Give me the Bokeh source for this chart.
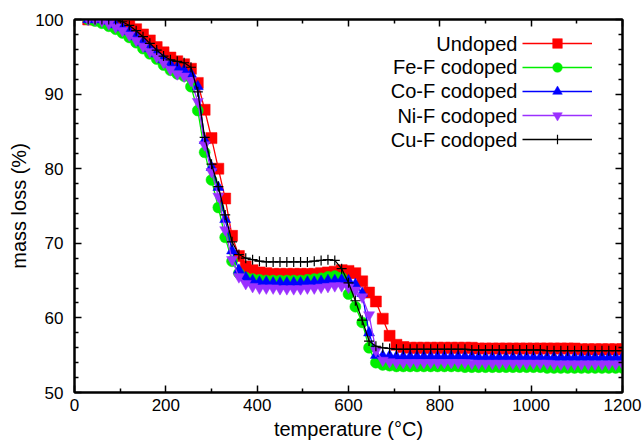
from bokeh.plotting import figure
from bokeh.models import (LinearAxis, FixedTicker, Range1d, Legend, LegendItem,
                          Label, CustomJSTickFormatter)
from bokeh.embed import file_html
from bokeh.resources import INLINE

# ---------------- data ----------------
temperature = list(range(30, 1201, 15))  # sampling grid, degC

undoped = [100.0, 100.0, 100.0, 100.0, 99.9, 99.6, 99.2, 98.7, 98.0, 97.2,
           96.3, 95.6, 94.9, 94.4, 94.0, 93.4, 91.5, 87.9, 84.1, 80.0,
           76.0, 71.0, 68.3, 66.9, 66.4, 66.1, 66.0, 65.9, 65.9, 65.9,
           65.9, 65.9, 65.9, 65.9, 66.0, 66.1, 66.2, 66.4, 66.3, 66.0,
           64.9, 63.4, 62.2, 59.9, 57.6, 56.4, 56.1, 56.0, 56.0, 56.0,
           56.0, 56.0, 56.0, 56.0, 56.0, 56.0, 56.0, 55.9, 55.9, 55.9,
           55.9, 55.9, 55.9, 55.9, 55.9, 55.9, 55.9, 55.9, 55.9, 55.9,
           55.9, 55.9, 55.8, 55.8, 55.8, 55.8, 55.8, 55.8, 55.8]

fe_f = [100.0, 99.8, 99.5, 99.1, 98.7, 98.2, 97.6, 96.9, 96.1, 95.4,
        94.7, 93.9, 93.2, 92.7, 92.4, 91.0, 87.8, 82.2, 78.5, 74.8,
        70.8, 67.6, 66.0, 65.4, 65.2, 65.1, 65.0, 65.0, 65.0, 65.0,
        65.0, 65.0, 65.1, 65.2, 65.3, 65.5, 65.6, 65.4, 63.2, 61.5,
        59.4, 56.0, 54.0, 53.7, 53.6, 53.5, 53.5, 53.5, 53.5, 53.5,
        53.5, 53.5, 53.5, 53.5, 53.5, 53.4, 53.4, 53.4, 53.4, 53.4,
        53.4, 53.4, 53.4, 53.4, 53.4, 53.4, 53.4, 53.3, 53.3, 53.3,
        53.3, 53.3, 53.3, 53.3, 53.3, 53.3, 53.3, 53.3, 53.3]

co_f = [100.0, 100.0, 100.0, 99.8, 99.3, 98.9, 98.4, 97.7, 96.9, 96.1,
        95.4, 94.6, 94.0, 93.6, 93.2, 92.7, 91.0, 83.8, 80.2, 77.5,
        73.2, 69.0, 66.4, 65.4, 65.0, 64.8, 64.8, 64.7, 64.7, 64.7,
        64.7, 64.7, 64.8, 64.8, 64.9, 65.0, 65.0, 65.1, 65.0, 64.5,
        63.3, 58.0, 55.0, 54.9, 54.9, 54.8, 54.8, 54.8, 54.8, 54.8,
        54.8, 54.8, 54.8, 54.8, 54.8, 54.8, 54.8, 54.7, 54.7, 54.7,
        54.7, 54.7, 54.7, 54.7, 54.7, 54.7, 54.7, 54.7, 54.7, 54.7,
        54.7, 54.7, 54.7, 54.7, 54.7, 54.7, 54.7, 54.7, 54.7]

ni_f = [100.0, 100.0, 99.8, 99.4, 99.0, 98.5, 97.9, 97.2, 96.4, 95.7,
        95.0, 94.2, 93.3, 92.7, 92.4, 91.8, 89.0, 83.2, 79.6, 76.3,
        71.8, 67.8, 65.5, 64.6, 64.2, 64.0, 64.0, 64.0, 63.9, 63.9,
        63.9, 63.9, 64.0, 64.0, 64.1, 64.2, 64.3, 64.3, 64.1, 63.7,
        62.8, 60.4, 55.6, 54.3, 54.1, 54.0, 54.0, 54.0, 54.0, 54.0,
        54.0, 54.0, 54.0, 54.0, 54.0, 54.0, 53.9, 53.9, 53.9, 53.9,
        53.9, 53.9, 53.9, 53.9, 53.9, 53.9, 53.9, 53.9, 53.8, 53.8,
        53.8, 53.8, 53.8, 53.8, 53.8, 53.8, 53.8, 53.8, 53.8]

cu_f = [100.0, 100.0, 100.0, 100.0, 100.0, 99.7, 99.2, 98.5, 97.7, 96.8,
        95.9, 95.1, 94.6, 94.4, 94.2, 93.6, 90.3, 84.2, 80.6, 77.6,
        73.8, 70.2, 68.5, 68.0, 67.8, 67.6, 67.5, 67.5, 67.5, 67.5,
        67.5, 67.5, 67.5, 67.6, 67.7, 67.8, 67.7, 66.6, 64.7, 62.3,
        59.7, 56.9, 56.2, 56.0, 55.9, 55.8, 55.8, 55.8, 55.8, 55.8,
        55.8, 55.8, 55.8, 55.8, 55.8, 55.8, 55.7, 55.7, 55.7, 55.7,
        55.7, 55.7, 55.7, 55.7, 55.7, 55.7, 55.7, 55.6, 55.6, 55.6,
        55.6, 55.6, 55.6, 55.6, 55.6, 55.6, 55.6, 55.6, 55.6]

series_names = ["Undoped", "Fe-F codoped", "Co-F codoped", "Ni-F codoped", "Cu-F codoped"]
series_values = [undoped, fe_f, co_f, ni_f, cu_f]

x_major = [0, 200, 400, 600, 800, 1000, 1200]
x_minor = [100, 300, 500, 700, 900, 1100]
y_major = [50, 60, 70, 80, 90, 100]
y_minor = [52, 54, 56, 58, 62, 64, 66, 68, 72, 74, 76, 78, 82, 84, 86, 88, 92, 94, 96, 98]

for s in series_values:
    assert len(s) == len(temperature), len(s)

# ---------------- styles ----------------
colors = ["#ff0000", "#00ee00", "#0000ff", "#9b30ff", "#000000"]
markers = ["square", "circle", "triangle", "inverted_triangle", "cross"]
msizes = [11, 11, 11, 11, 10]
FONT = "Liberation Sans"

p = figure(width=644, height=442, output_backend="svg", toolbar_location=None,
           x_range=Range1d(0, 1200), y_range=Range1d(50, 100),
           min_border_left=74, min_border_right=22, min_border_top=19,
           min_border_bottom=50)
p.xgrid.visible = False
p.ygrid.visible = False
p.outline_line_color = "black"
p.outline_line_width = 2
p.background_fill_color = "white"
p.border_fill_color = "white"

xt = FixedTicker(ticks=x_major, minor_ticks=x_minor)
yt = FixedTicker(ticks=y_major, minor_ticks=y_minor)


def style_axis(ax):
    ax.axis_line_width = 2
    ax.axis_line_color = "black"
    ax.major_tick_in = 7
    ax.major_tick_out = 0
    ax.minor_tick_in = 4
    ax.minor_tick_out = 0
    ax.major_tick_line_width = 1.5
    ax.minor_tick_line_width = 1.5
    ax.major_label_text_font = FONT
    ax.major_label_text_font_size = "17px"
    ax.major_label_text_color = "black"
    ax.axis_label_text_font = FONT
    ax.axis_label_text_font_size = "20px"
    ax.axis_label_text_font_style = "normal"
    ax.axis_label_text_color = "black"


xa = p.xaxis[0]
ya = p.yaxis[0]
xa.ticker = xt
ya.ticker = yt
style_axis(xa)
style_axis(ya)
xa.axis_label = "temperature (°C)"
ya.axis_label = "mass loss (%)"
xa.major_label_standoff = 6
xa.axis_label_standoff = 4
ya.major_label_standoff = 11
ya.axis_label_standoff = 2

blank = CustomJSTickFormatter(code="return ''")
for loc, tk in (("right", yt), ("above", xt)):
    ax = LinearAxis(ticker=tk, formatter=blank)
    style_axis(ax)
    ax.major_label_text_font_size = "0px"
    ax.major_label_standoff = 0
    p.add_layout(ax, loc)

items = []
for name, vals, c, m, ms in zip(series_names, series_values, colors, markers, msizes):
    lr = p.line(temperature, vals, line_color=c, line_width=1.3)
    if m == "cross":
        sr = p.scatter(temperature, vals, marker=m, size=ms, line_color=c,
                       line_width=1.2)
    else:
        sr = p.scatter(temperature, vals, marker=m, size=ms, fill_color=c,
                       line_color=c, line_width=0.5)
    items.append(LegendItem(label="", renderers=[lr, sr]))

legend = Legend(items=items, location=(448, 241), orientation="vertical",
                glyph_width=70, glyph_height=24, label_width=0, label_height=24,
                label_standoff=0, spacing=0, padding=0, margin=0,
                border_line_color=None, background_fill_alpha=0,
                label_text_font_size="1px")
p.add_layout(legend)

# legend texts, right-aligned left of the samples (gnuplot style)
legend_text_x = 970
legend_text_y = [96.78, 93.57, 90.35, 87.13, 83.91]
for name, ty in zip(series_names, legend_text_y):
    p.add_layout(Label(x=legend_text_x, y=ty, text=name, text_align="right",
                       text_baseline="middle", text_font=FONT,
                       text_font_size="20px", text_color="black"))

open("out.html", "w").write(file_html(p, INLINE))
